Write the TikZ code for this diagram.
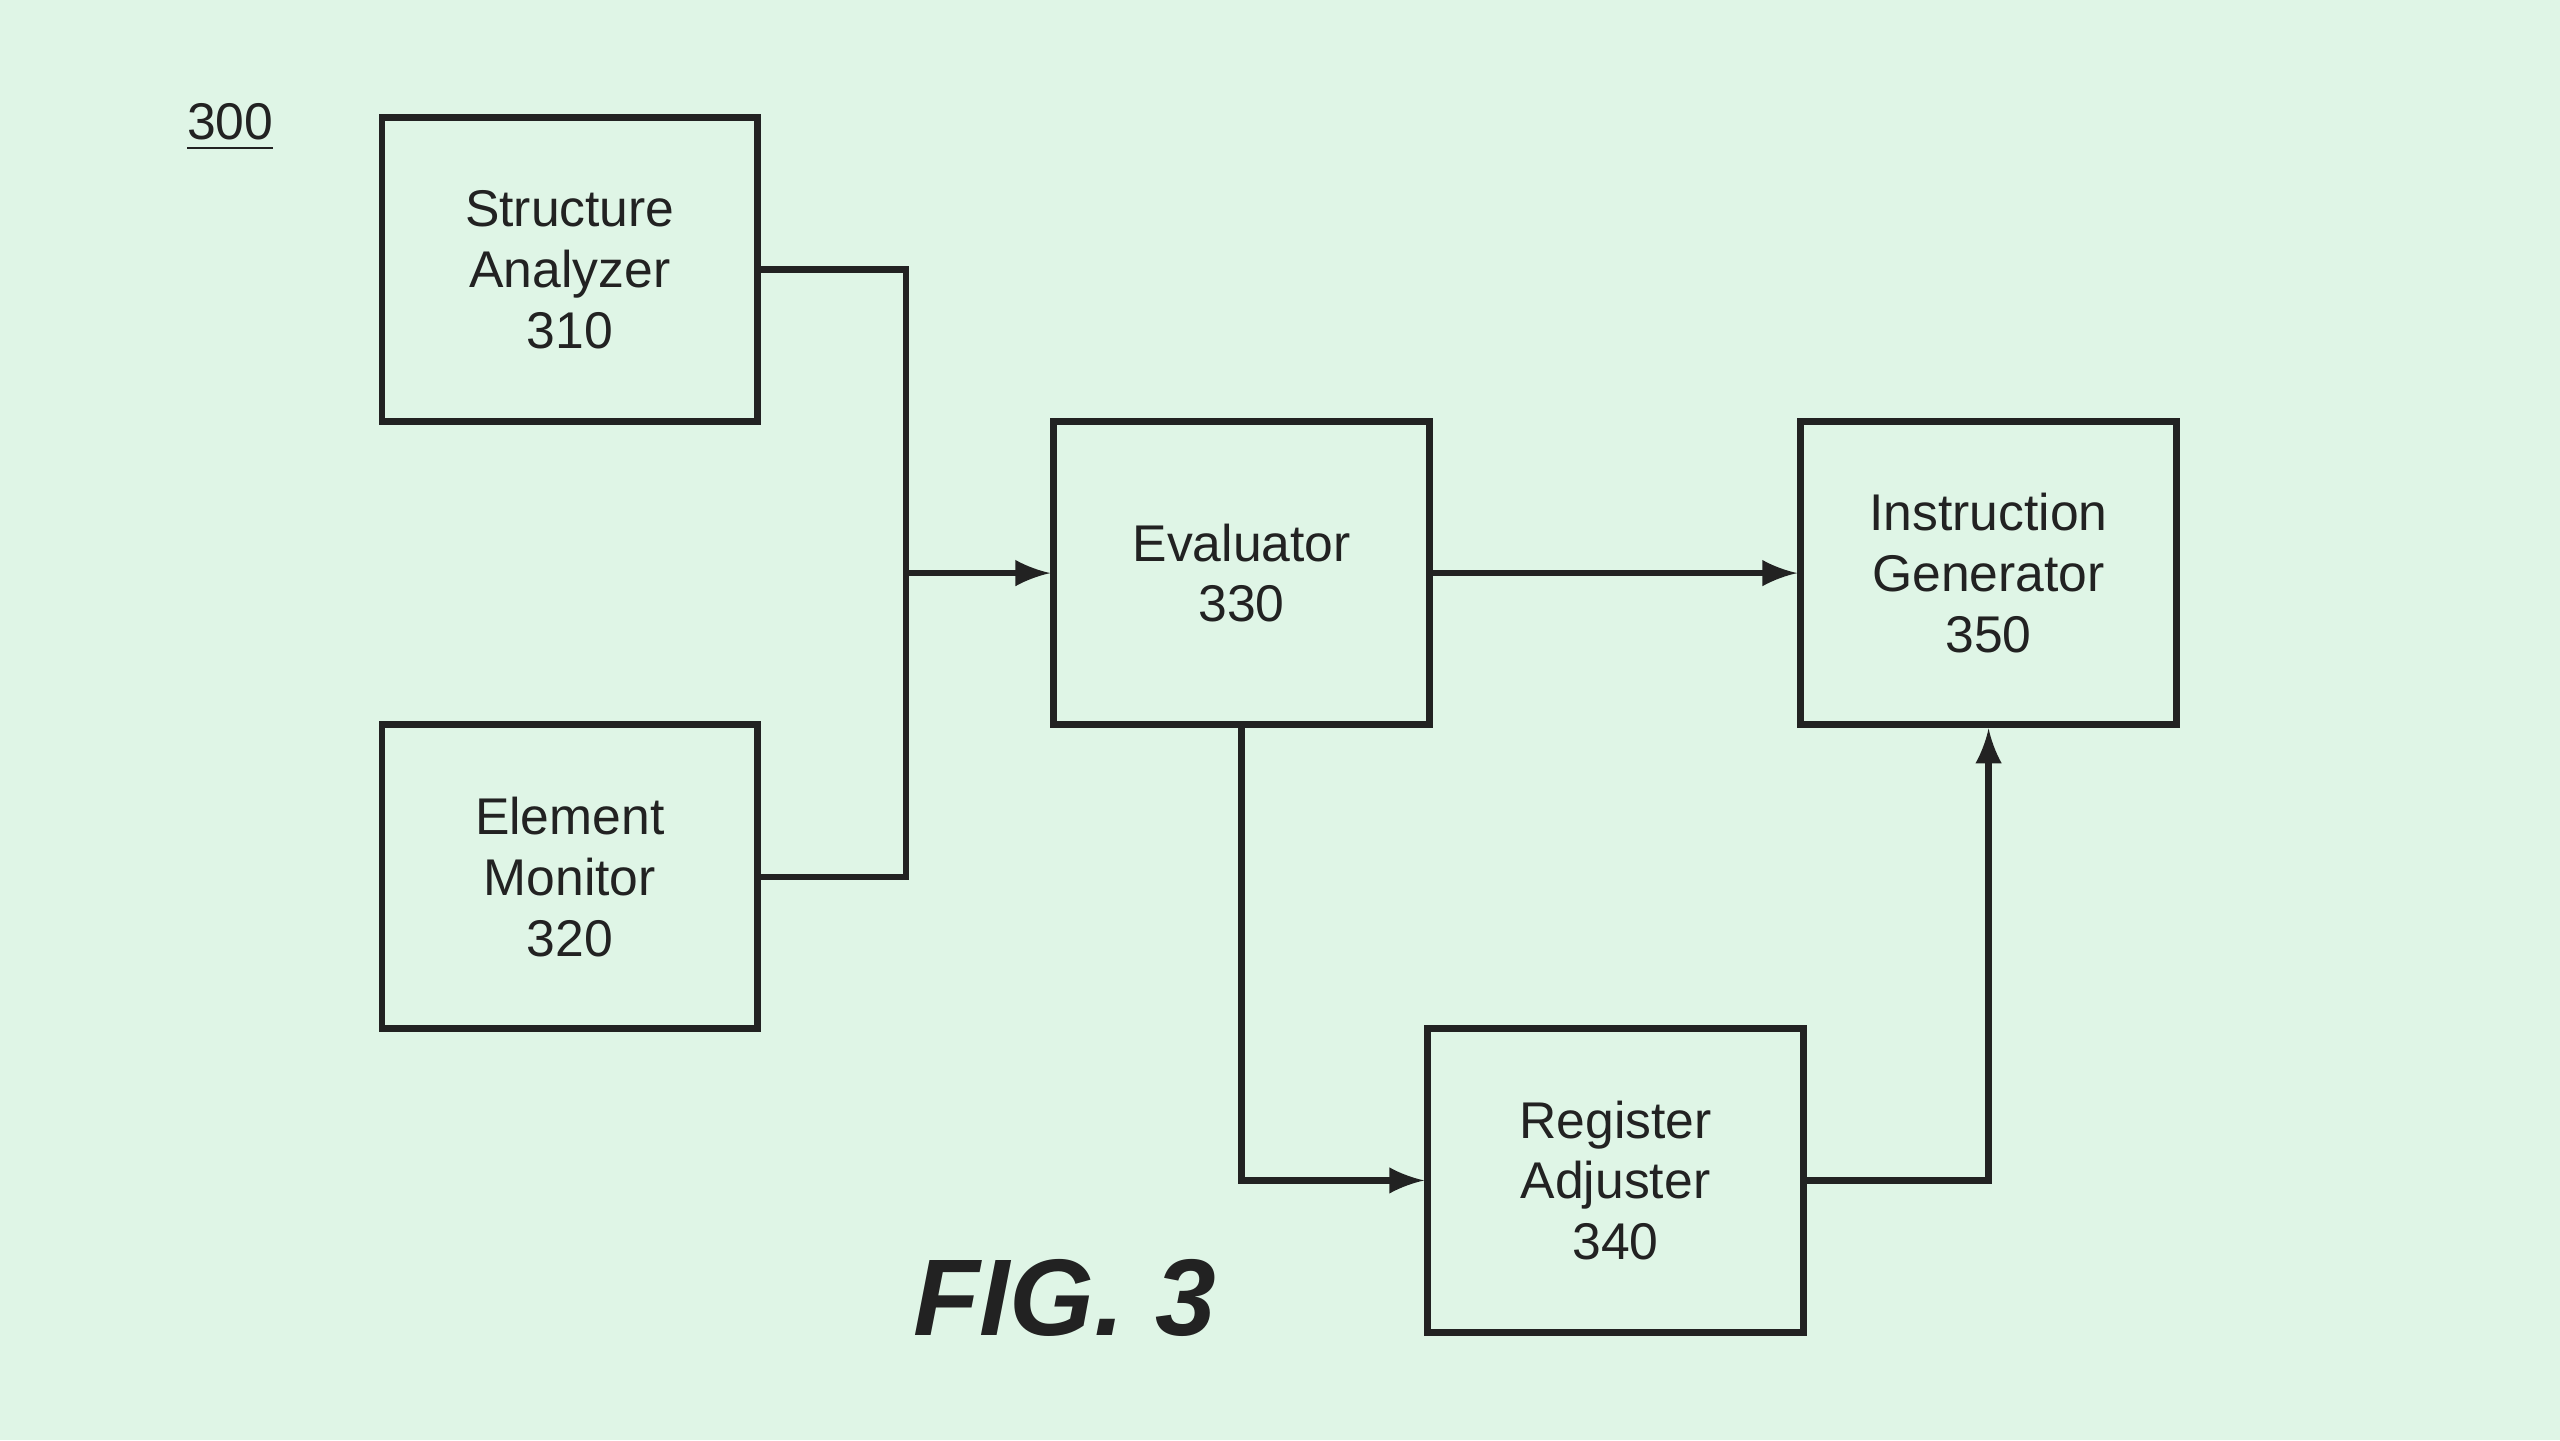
\documentclass[tikz,border=0pt]{standalone}
\usepackage{fontspec}
\setmainfont{Liberation Sans}
\definecolor{bgcol}{HTML}{DFF5E6}
\definecolor{inkcol}{HTML}{222222}
\begin{document}
\begin{tikzpicture}[
    block/.style={draw=inkcol, line width=1.2pt, minimum width=2.3cm, minimum height=1.86cm,
                  align=center, font=\fontsize{9}{10.6}\selectfont, text=inkcol},
    link/.style={draw=inkcol, line width=1.1pt},
    arrow/.style={link, -latex}
]
    % Background
    \fill[bgcol] (0,0) rectangle (15.68,-8.82);
    \useasboundingbox (0,0) rectangle (15.68,-8.82);

    % Label
    \node[text=inkcol, font=\fontsize{9}{10.6}\selectfont] (lbl) at (1.41,-0.78) {\underline{300}};

    % Blocks
    \node[block] (sa) at (3.49,-1.65) {Structure\\Analyzer\\310};
    \node[block] (em) at (3.49,-5.37) {Element\\Monitor\\320};
    \node[block] (ev) at (7.605,-3.51) {Evaluator\\330};
    \node[block] (ra) at (9.895,-7.23) {Register\\Adjuster\\340};
    \node[block] (ig) at (12.18,-3.51) {Instruction\\Generator\\350};

    % Junction
    \coordinate (j) at (5.55,-3.51);

    % Edges
    \draw[link] (sa.east) -| (j);
    \draw[link] (em.east) -| (j);
    \draw[arrow] (j) -- (ev.west);
    \draw[arrow] (ev.east) -- (ig.west);
    \draw[arrow] (ev.south) |- (ra.west);
    \draw[arrow] (ra.east) -| (ig.south);

    % Caption
    \node[text=inkcol, font=\fontsize{19}{22}\selectfont\bfseries\itshape] (fig) at (6.52,-7.95) {FIG. 3};
\end{tikzpicture}
\end{document}
